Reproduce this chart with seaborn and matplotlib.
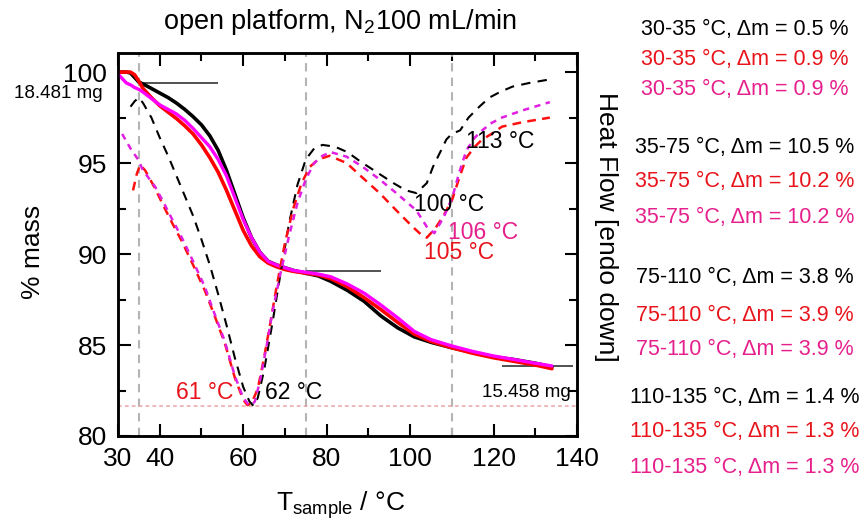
import matplotlib
matplotlib.use("Agg")
import matplotlib.pyplot as plt
import seaborn as sns
import numpy as np

# --- DATA ---
# TGA mass curves (% mass)
T_TGA = [30, 32, 33, 34, 35, 36, 38, 40, 42, 44, 46, 48, 50, 52, 54, 56, 58, 60, 62, 64,
         66, 68, 70, 72, 75, 78, 81, 85, 89, 93, 97, 101, 105, 110, 115, 120, 125, 130, 134]
MASS_BLACK = [100.0, 100.0, 99.95, 99.7, 99.45, 99.35, 99.1, 98.85, 98.6, 98.3, 97.95, 97.55, 97.1,
              96.5, 95.7, 94.6, 93.3, 92.0, 90.9, 90.1, 89.6, 89.4, 89.25, 89.1, 88.95, 88.8,
              88.5, 88.0, 87.4, 86.6, 85.95, 85.45, 85.15, 84.85, 84.6, 84.35, 84.2, 84.0, 83.8]
MASS_RED = [100.0, 100.0, 100.0, 99.85, 99.5, 99.1, 98.6, 98.15, 97.8, 97.45, 97.05, 96.6, 96.0,
            95.3, 94.5, 93.5, 92.4, 91.3, 90.45, 89.85, 89.5, 89.3, 89.15, 89.05, 88.95, 88.85,
            88.65, 88.2, 87.6, 86.95, 86.25, 85.6, 85.2, 84.85, 84.55, 84.3, 84.1, 83.9, 83.7]
MASS_MAGENTA = [99.9, 99.4, 99.3, 99.15, 99.05, 98.9, 98.55, 98.2, 97.95, 97.7, 97.35, 96.9, 96.4,
                95.9, 95.2, 94.3, 93.1, 91.9, 90.9, 90.1, 89.6, 89.4, 89.25, 89.1, 89.0, 88.9,
                88.75, 88.35, 87.85, 87.2, 86.5, 85.75, 85.3, 84.95, 84.65, 84.4, 84.2, 84.0, 83.85]

# DSC heat flow curves (drawn in units of the mass axis, right axis has no scale)
T_DSC_BLACK = [33, 34, 35, 36, 38, 40, 42, 44, 46, 48, 50, 52, 54, 56, 58, 60, 61.5, 62.5, 63.5,
               65, 67, 69, 71, 73, 75, 77, 79, 82, 85, 88, 92, 96, 99, 101.5, 104, 105.5, 107,
               108.7, 110, 112, 114, 116.6, 119, 121.5, 124.5, 128.5, 133.5]
HF_BLACK = [98.1, 98.4, 98.6, 98.3, 97.5, 96.4, 95.4, 94.3, 93.2, 92.1, 90.8, 89.4, 87.8, 86.1,
            84.3, 82.7, 81.9, 81.65, 82.1, 83.6, 86.2, 89.0, 91.7, 93.8, 95.2, 95.8, 96.0, 95.9,
            95.6, 95.1, 94.5, 93.9, 93.5, 93.35, 93.9, 94.8, 95.5, 96.3, 96.6, 96.8, 97.5, 98.1,
            98.6, 98.9, 99.2, 99.4, 99.6]
T_DSC_RED = [33.6, 34.5, 35.3, 36.5, 38.9, 41, 43, 45.3, 48, 50.8, 53, 55.6, 58, 60, 61, 62,
             63.5, 65, 66.5, 68, 70, 72, 74, 76, 78, 80.7, 84.8, 88.6, 92.7, 96.7, 100.6, 102.5,
             104, 106, 108, 110.1, 111.8, 113.5, 115.5, 117.3, 119.5, 122, 127, 133.5]
HF_RED = [93.5, 94.4, 94.9, 94.6, 93.6, 92.6, 91.7, 90.7, 89.4, 88.0, 86.7, 85.1, 83.2, 82.0,
          81.7, 81.8, 82.6, 84.3, 86.2, 88.2, 90.6, 92.5, 93.9, 94.8, 95.2, 95.4, 95.0, 94.2,
          93.35, 92.4, 91.5, 91.1, 90.9, 91.4, 92.1, 93.0, 94.2, 95.3, 95.9, 96.3, 96.6, 97.0,
          97.25, 97.5]
T_DSC_MAGENTA = [31, 33, 34.8, 36, 38.9, 41, 43, 45.3, 48, 50.8, 53, 55.6, 58, 60, 61.2, 62,
                 62.8, 64, 65.5, 67, 69, 71, 73, 75, 77, 79, 81, 84.8, 88.6, 92.7, 96.7, 101.5,
                 104, 105.8, 108, 110.1, 111.8, 113.5, 115.5, 117.3, 119.5, 122, 127, 133.5]
HF_MAGENTA = [96.6, 95.8, 95.2, 94.6, 93.7, 92.8, 91.9, 90.9, 89.6, 88.2, 86.8, 85.2, 83.3, 82.1,
              81.75, 81.7, 81.9, 83.0, 84.8, 86.8, 89.0, 91.0, 92.8, 94.1, 95.0, 95.4, 95.6,
              95.35, 94.8, 94.1, 93.35, 92.4, 91.5, 91.15, 92.0, 93.1, 94.5, 95.7, 96.4, 96.8,
              97.2, 97.5, 97.9, 98.35]

STEP_T = [35, 75, 110]                       # step boundaries (°C)
TANGENTS = [(99.4, 35, 54), (89.05, 75, 93), (83.85, 122, 139)]   # (mass, T from, T to)
DSC_BASE = 81.65

PEAK_LABELS = [("61 °C", 44.0, 82.4, "#e8141b"), ("62 °C", 65.3, 82.4, "black"),
               ("100 °C", 101.0, 92.7, "black"), ("105 °C", 103.3, 90.1, "#e8141b"),
               ("106 °C", 109.0, 91.2, "#e5208c"), ("113 °C", 113.5, 96.2, "black")]

STEP_TEXT = ["30-35 °C, Δm = 0.5 %", "30-35 °C, Δm = 0.9 %", "30-35 °C, Δm = 0.9 %",
             "35-75 °C, Δm = 10.5 %", "35-75 °C, Δm = 10.2 %", "35-75 °C, Δm = 10.2 %",
             "75-110 °C, Δm = 3.8 %", "75-110 °C, Δm = 3.9 %", "75-110 °C, Δm = 3.9 %",
             "110-135 °C, Δm = 1.4 %", "110-135 °C, Δm = 1.3 %", "110-135 °C, Δm = 1.3 %"]
TEXT_COLORS = ["black", "#e8141b", "#e5208c"] * 4

# --- STYLE ---
sns.set_theme(style="ticks")
plt.rcParams["font.family"] = ["Liberation Sans", "DejaVu Sans"]
plt.rcParams["mathtext.fontset"] = "custom"
plt.rcParams["mathtext.rm"] = "Liberation Sans"
plt.rcParams["mathtext.it"] = "Liberation Sans:italic"
plt.rcParams["text.color"] = "black"
plt.rcParams["axes.labelcolor"] = "black"
plt.rcParams["xtick.color"] = "black"
plt.rcParams["ytick.color"] = "black"

W, H = 867, 523
fig = plt.figure(figsize=(W / 100, H / 100), dpi=100)
ax = fig.add_axes([118 / W, 1 - 436 / H, (577 - 118) / W, (436 - 53) / H])
ax2 = ax.twinx()

XLIM, YLIM = (30, 140), (80, 101.05)

# reference lines
for t in STEP_T:
    ax.axvline(t, color="#b4b4b4", lw=1.5, ls=(0, (4, 3)), zorder=1)
ax.axhline(DSC_BASE, color="#e8a4a4", lw=1.1, ls=(0, (2.5, 2)), zorder=1)
for m, t0, t1 in TANGENTS:
    ax.hlines(m, t0, t1, color="#222222", lw=1.1, zorder=2)

# TGA curves
sns.lineplot(x=T_TGA, y=MASS_BLACK, ax=ax, color="black", lw=2.6, zorder=4)
sns.lineplot(x=T_TGA, y=MASS_RED, ax=ax, color="#ff0000", lw=2.6, zorder=5)
sns.lineplot(x=T_TGA, y=MASS_MAGENTA, ax=ax, color="#ff00ff", lw=2.4, zorder=6)

# DSC curves
sns.lineplot(x=T_DSC_BLACK, y=HF_BLACK, ax=ax2, color="black", lw=1.5, ls=(0, (4.5, 3.5)))
sns.lineplot(x=T_DSC_RED, y=HF_RED, ax=ax2, color="#ff1010", lw=1.8, ls=(0, (3.5, 2.5)))
sns.lineplot(x=T_DSC_MAGENTA, y=HF_MAGENTA, ax=ax2, color="#e020e0", lw=1.8, ls=(0, (2.5, 2.2)))

for a in (ax, ax2):
    a.set_xlim(*XLIM)
    a.set_ylim(*YLIM)

ax.set_xticks([30, 40, 60, 80, 100, 120, 140])
ax.set_xticks([50, 70, 90, 110, 130], minor=True)
ax.set_yticks([80, 85, 90, 95, 100])
ax.set_yticks([82.5, 87.5, 92.5, 97.5], minor=True)
ax2.set_yticks([80, 85, 90, 95, 100])
ax2.set_yticks([82.5, 87.5, 92.5, 97.5], minor=True)

ax.tick_params(which="both", direction="in", top=True, width=1.5, labelsize=19, pad=8)
ax.tick_params(which="major", length=9)
ax.tick_params(which="minor", length=6)
ax2.tick_params(which="both", direction="in", width=1.5, labelright=False)
ax2.tick_params(which="major", length=9)
ax2.tick_params(which="minor", length=6)
for a in (ax, ax2):
    for s in a.spines.values():
        s.set_linewidth(1.8)
        s.set_color("black")

ax.set_ylabel("% mass", fontsize=19)
ax.yaxis.set_label_coords(-0.158, 0.48)
ax.set_xlabel(r"T$_{\mathrm{sample}}$ / °C", fontsize=19)
ax.xaxis.set_label_coords(0.484, -0.138)
ax2.set_ylabel("Heat Flow [endo down]", fontsize=19, rotation=270, va="center", ha="center")
ax2.yaxis.set_label_coords(1.063, 0.545)

ax.text(0.484, 1.082, r"open platform, N$_2$100 mL/min", transform=ax.transAxes,
        ha="center", va="center", fontsize=19.5)

ax.text(26.4, 98.8, "18.481 mg", ha="right", va="center", fontsize=13.5, clip_on=False)
ax.text(138.6, 82.4, "15.458 mg", ha="right", va="center", fontsize=13.5)
for txt, t, m, c in PEAK_LABELS:
    ax2.text(t, m, txt, color=c, ha="left", va="center", fontsize=16.5, zorder=10)

text_y_px = [30, 60, 90, 147, 182, 217, 277, 315, 350, 397, 432, 468]
for txt, c, ypx in zip(STEP_TEXT, TEXT_COLORS, text_y_px):
    fig.text(745 / W, 1 - ypx / H, txt, color=c, ha="center", va="center", fontsize=15.5)

fig.savefig("out.png", dpi=100)
